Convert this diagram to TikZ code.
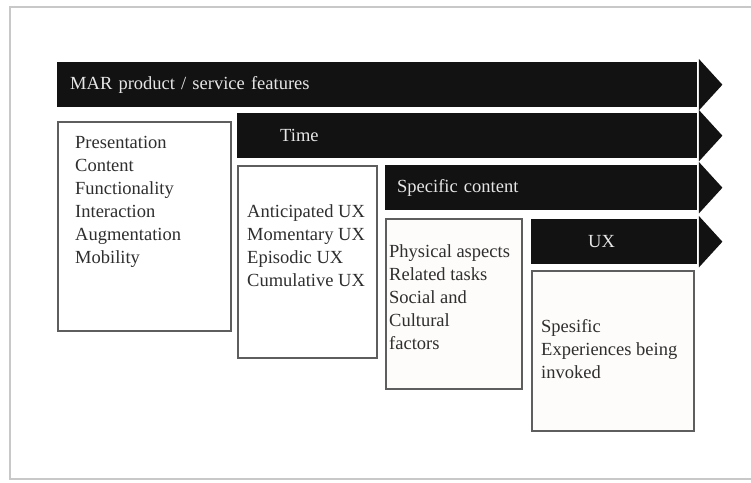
\documentclass[tikz,border=0pt]{standalone}
\usepackage{fontspec}
\setmainfont{Liberation Serif}
\definecolor{barfill}{HTML}{121212}
\definecolor{bartext}{HTML}{E6E6E6}
\definecolor{boxline}{HTML}{5E5E5E}
\definecolor{warmfill}{HTML}{FEFCFA}
\definecolor{listgray}{HTML}{2E2E2E}
\definecolor{framegray}{HTML}{C8C8C8}
\tikzset{
  bar/.style={fill=barfill, text=bartext, anchor=north west, align=left,
    inner ysep=0pt, minimum height=45pt, font=\fontsize{18.5}{23}\selectfont},
  tip/.style={fill=barfill},
  listbox/.style={draw=boxline, line width=1.6pt, fill=white, anchor=north west, inner sep=0pt},
  listtext/.style={anchor=north west, align=left, inner sep=0pt, text=listgray,
    font=\fontsize{18.5}{23}\selectfont}
}
\begin{document}
\begin{tikzpicture}[x=1pt,y=-1pt]
  \useasboundingbox (0,0) rectangle (751,482);
  \draw[framegray, line width=1.5pt] (751,7) -- (10,7) -- (10,479) -- (751,479);
  % bars
  \node[bar, inner xsep=13pt, text width=614pt] (mar) at (57,62) {MAR product / service features};
  \node[bar, inner xsep=43pt, text width=374pt] (time) at (237,113) {Time};
  \node[bar, inner xsep=12pt, text width=288pt] (spec) at (385,165) {Specific content};
  \node[bar, inner xsep=57pt, text width=52pt] (ux) at (531,219) {UX};
  \foreach \b in {mar,time,spec,ux}
    \fill[tip] ([xshift=1.5pt,yshift=3pt]\b.north east) -- ([xshift=25pt]\b.east)
      -- ([xshift=1.5pt,yshift=-3pt]\b.south east) -- cycle;
  % boxes
  \node[listbox, minimum width=173pt, minimum height=209pt] (feat) at (57,121) {};
  \node[listbox, minimum width=139pt, minimum height=192pt] (phase) at (237,165) {};
  \node[listbox, fill=warmfill, minimum width=136pt, minimum height=170pt] (aspect) at (385,218) {};
  \node[listbox, fill=warmfill, minimum width=162pt, minimum height=160pt] (exper) at (531,270) {};
  \node[listtext] (featlist) at ([xshift=18pt,yshift=-15pt]feat.north west)
    {Presentation\\Content\\Functionality\\Interaction\\Augmentation\\Mobility};
  \node[listtext] (phaselist) at ([xshift=10pt,yshift=-39pt]phase.north west)
    {Anticipated UX\\Momentary UX\\Episodic UX\\Cumulative UX};
  \node[listtext] (aspectlist) at ([xshift=4pt,yshift=-26pt]aspect.north west)
    {Physical aspects\\Related tasks\\Social and\\Cultural\\factors};
  \node[listtext] (experlist) at ([xshift=10pt,yshift=-49pt]exper.north west)
    {Spesific\\Experiences being\\invoked};
\end{tikzpicture}
\end{document}
